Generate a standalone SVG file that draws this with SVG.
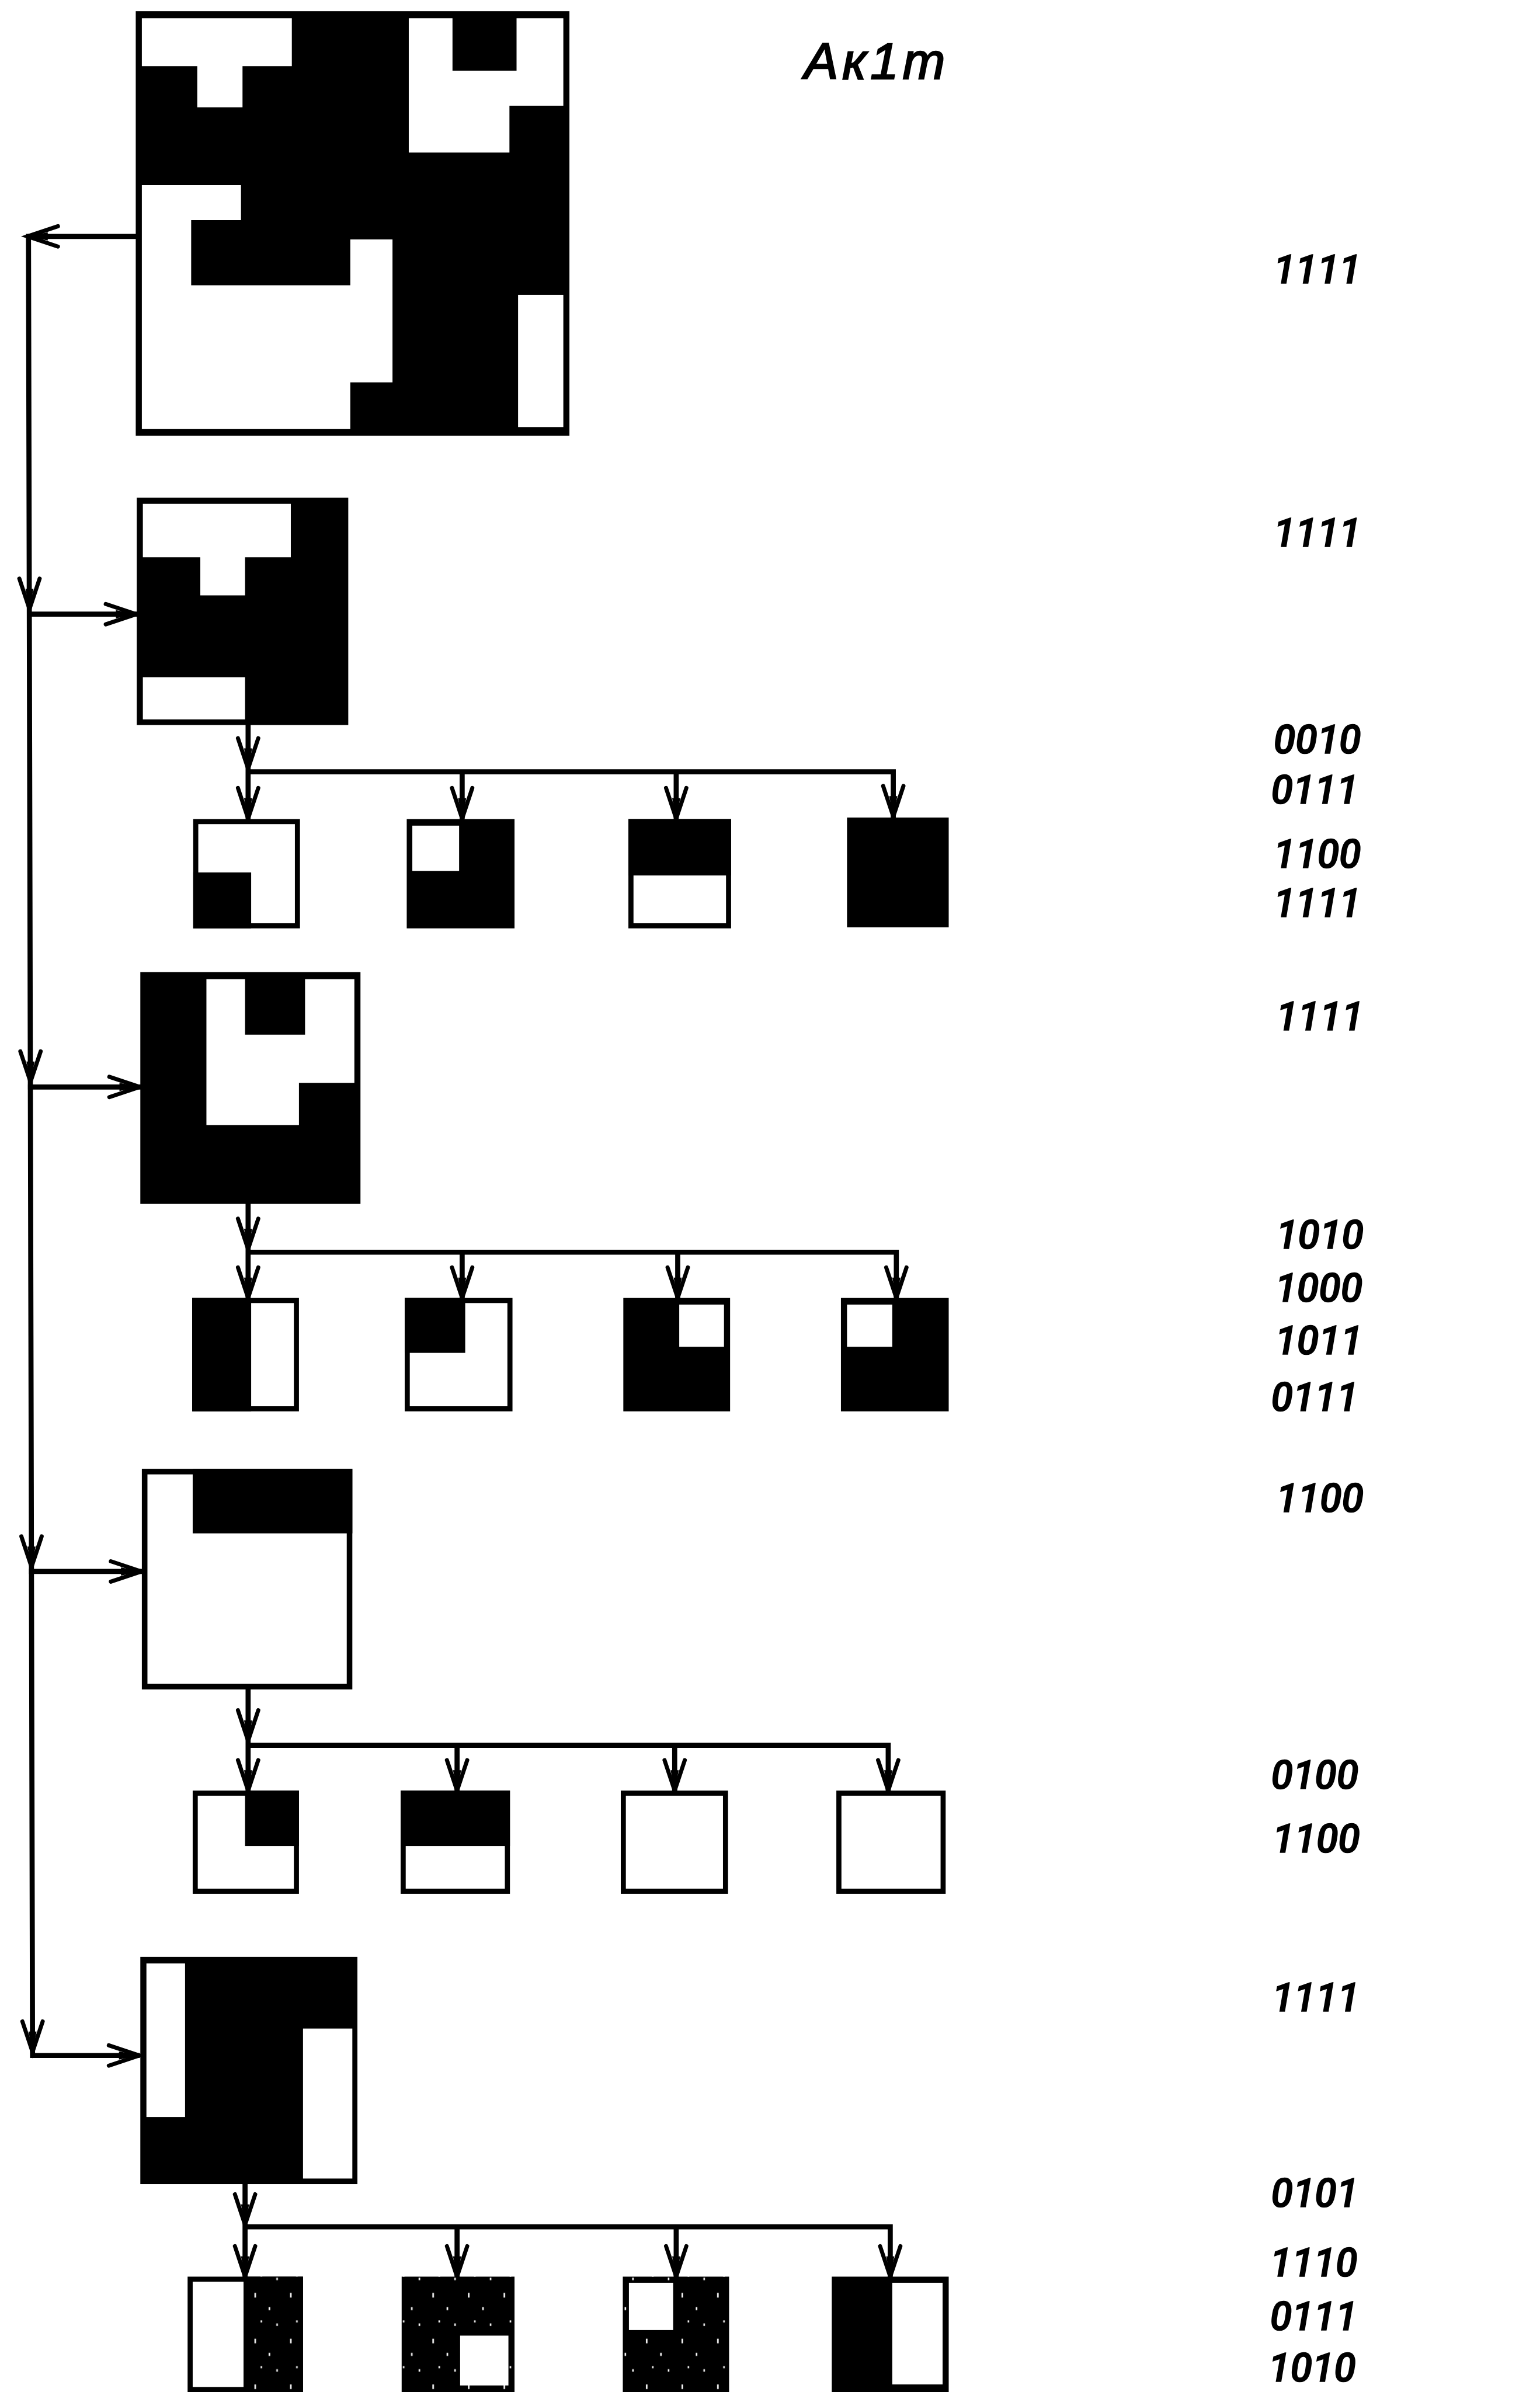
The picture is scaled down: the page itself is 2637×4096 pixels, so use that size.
<svg xmlns="http://www.w3.org/2000/svg" xmlns:xlink="http://www.w3.org/1999/xlink" width="2637" height="4096" viewBox="0 0 2637 4096">
<style>
.ln{stroke:#000;stroke-width:10;fill:none;stroke-linecap:square;stroke-linejoin:miter}
.ahv{stroke:#000;stroke-width:8;fill:none;stroke-linejoin:miter;stroke-linecap:round}
.k{fill:#000}
.w{fill:#fff}
.bx{fill:#fff;stroke:#000;stroke-width:11}
.sb{fill:#fff;stroke:#000;stroke-width:10}
.lbl{font-family:Roboto,"Liberation Sans",Arial,sans-serif;font-style:italic;font-weight:500;font-size:78px;fill:#000;stroke:#000;stroke-width:2}
.ttl{font-family:"Liberation Sans",Arial,sans-serif;font-style:italic;font-size:100px;fill:#000;stroke:#000;stroke-width:3;letter-spacing:8px}
</style>
<defs>
<g id="ah">
<path class="ahv" d="M-20,-60 L0,0 L20,-60"/>
<path class="k" d="M-8,-40 L0,0 L8,-40Z"/>
</g>
<pattern id="spk" width="70" height="90" patternUnits="userSpaceOnUse">
<rect width="70" height="90" fill="#000"/>
<path d="M12,10v9M40,38v6M55,70v5M24,64v4" stroke="#fff" stroke-width="3"/>
</pattern>
</defs>
<rect width="2637" height="4096" fill="#fff"/>
<g transform="scale(0.870584)">

<g id="connectors">
<path class="ln" d="M267,465 H58 M56,465 L64,4043 H270"/>
<path class="ln" d="M58,1208 H265 M60,2138 H272 M62,3091 H275"/>
<use xlink:href="#ah" href="#ah" transform="translate(54,465) rotate(90)"/>
<use xlink:href="#ah" href="#ah" transform="translate(58,1198)"/>
<use xlink:href="#ah" href="#ah" transform="translate(60,2128)"/>
<use xlink:href="#ah" href="#ah" transform="translate(62,3082)"/>
<use xlink:href="#ah" href="#ah" transform="translate(64,4036)"/>
<use xlink:href="#ah" href="#ah" transform="translate(268,1208) rotate(-90)"/>
<use xlink:href="#ah" href="#ah" transform="translate(275,2138) rotate(-90)"/>
<use xlink:href="#ah" href="#ah" transform="translate(278,3091) rotate(-90)"/>
<use xlink:href="#ah" href="#ah" transform="translate(274,4043) rotate(-90)"/>

<path class="ln" d="M488,1426 V1518 M488,1518 H1757 V1606 M488,1518 V1606 M909,1518 V1606 M1330,1518 V1606"/>
<use xlink:href="#ah" href="#ah" transform="translate(488,1512)"/>
<use xlink:href="#ah" href="#ah" transform="translate(488,1610)"/>
<use xlink:href="#ah" href="#ah" transform="translate(909,1610)"/>
<use xlink:href="#ah" href="#ah" transform="translate(1330,1610)"/>
<use xlink:href="#ah" href="#ah" transform="translate(1757,1606)"/>

<path class="ln" d="M488,2368 V2463 M488,2463 H1763 V2550 M488,2463 V2550 M909,2463 V2550 M1333,2463 V2550"/>
<use xlink:href="#ah" href="#ah" transform="translate(488,2457)"/>
<use xlink:href="#ah" href="#ah" transform="translate(488,2553)"/>
<use xlink:href="#ah" href="#ah" transform="translate(909,2553)"/>
<use xlink:href="#ah" href="#ah" transform="translate(1333,2553)"/>
<use xlink:href="#ah" href="#ah" transform="translate(1763,2553)"/>

<path class="ln" d="M488,3323 V3433 M488,3433 H1747 V3518 M488,3433 V3518 M899,3433 V3518 M1327,3433 V3518"/>
<use xlink:href="#ah" href="#ah" transform="translate(488,3424)"/>
<use xlink:href="#ah" href="#ah" transform="translate(488,3522)"/>
<use xlink:href="#ah" href="#ah" transform="translate(899,3522)"/>
<use xlink:href="#ah" href="#ah" transform="translate(1327,3522)"/>
<use xlink:href="#ah" href="#ah" transform="translate(1747,3522)"/>

<path class="ln" d="M482,4296 V4380 M482,4380 H1751 V4474 M482,4380 V4474 M899,4380 V4474 M1330,4380 V4474"/>
<use xlink:href="#ah" href="#ah" transform="translate(482,4376)"/>
<use xlink:href="#ah" href="#ah" transform="translate(482,4478)"/>
<use xlink:href="#ah" href="#ah" transform="translate(899,4478)"/>
<use xlink:href="#ah" href="#ah" transform="translate(1330,4478)"/>
<use xlink:href="#ah" href="#ah" transform="translate(1751,4478)"/>
</g>

<g id="n0">
<rect class="k" x="267" y="22" width="853" height="835"/>
<polygon class="w" points="279,36 574,36 574,130 477,130 477,211 388,211 388,130 279,130"/>
<polygon class="w" points="804,36 890,36 890,139 1016,139 1016,36 1108,36 1108,208 1002,208 1002,300 804,300"/>
<polygon class="w" points="279,364 474,364 474,433 376,433 376,561 689,561 689,471 772,471 772,752 689,752 689,844 279,844"/>
<rect class="w" x="1019" y="580" width="89" height="260"/>
</g>

<g id="n1">
<rect class="k" x="269" y="979" width="416" height="447"/>
<polygon class="w" points="281,991 572,991 572,1096 482,1096 482,1171 394,1171 394,1096 281,1096"/>
<rect class="w" x="281" y="1332" width="201" height="83"/>
</g>
<g id="n1c1"><rect class="sb" x="385" y="1616" width="200" height="205"/><rect class="k" x="380" y="1716" width="114" height="110"/></g>
<g id="n1c2"><rect class="k" x="800" y="1611" width="212" height="215"/><rect class="w" x="811" y="1624" width="92" height="89"/></g>
<g id="n1c3"><rect class="sb" x="1241" y="1616" width="192" height="205"/><rect class="k" x="1236" y="1611" width="202" height="111"/></g>
<g id="n1c4"><rect class="k" x="1666" y="1608" width="200" height="216"/></g>

<g id="n2">
<rect class="k" x="276" y="1912" width="433" height="456"/>
<polygon class="w" points="406,1926 482,1926 482,2035 600,2035 600,1926 697,1926 697,2130 588,2130 588,2213 406,2213"/>
</g>
<g id="n2c1"><rect class="sb" x="383" y="2558" width="200" height="213"/><rect class="k" x="378" y="2553" width="116" height="223"/></g>
<g id="n2c2"><rect class="sb" x="801" y="2558" width="202" height="213"/><rect class="k" x="796" y="2553" width="119" height="108"/></g>
<g id="n2c3"><rect class="k" x="1226" y="2553" width="210" height="223"/><rect class="w" x="1336" y="2566" width="88" height="83"/></g>
<g id="n2c4"><rect class="k" x="1654" y="2553" width="212" height="223"/><rect class="w" x="1666" y="2566" width="89" height="83"/></g>

<g id="n3">
<rect class="bx" x="284.5" y="2894.5" width="403" height="423"/>
<rect class="k" x="379" y="2889" width="314" height="127"/>
</g>
<g id="n3c1"><rect class="sb" x="384" y="3527" width="199" height="193"/><rect class="k" x="482" y="3522" width="106" height="109"/></g>
<g id="n3c2"><rect class="sb" x="793" y="3527" width="205" height="193"/><rect class="k" x="788" y="3522" width="215" height="109"/></g>
<g id="n3c3"><rect class="sb" x="1226" y="3527" width="201" height="193"/></g>
<g id="n3c4"><rect class="sb" x="1650" y="3527" width="205" height="193"/></g>

<g id="n4">
<rect class="k" x="276" y="3849" width="427" height="447"/>
<rect class="w" x="288" y="3862" width="76" height="302"/>
<rect class="w" x="596" y="3990" width="97" height="295"/>
</g>
<g id="n4c1"><rect class="sb" x="374" y="4483" width="217" height="217"/><rect fill="url(#spk)" x="479" y="4478" width="117" height="227"/></g>
<g id="n4c2"><rect fill="url(#spk)" x="790" y="4478" width="222" height="227"/><rect class="w" x="905" y="4594" width="95" height="98"/></g>
<g id="n4c3"><rect fill="url(#spk)" x="1225" y="4478" width="209" height="227"/><rect class="w" x="1237" y="4490" width="87" height="93"/></g>
<g id="n4c4"><rect class="k" x="1636" y="4478" width="230" height="227"/><rect class="w" x="1755" y="4490" width="99" height="200"/></g>

<g id="labels">
<text class="ttl" x="1582" y="155">Ак1т</text>
<text class="lbl" x="2505" y="557">1111</text>
<text class="lbl" x="2505" y="1075">1111</text>
<text class="lbl" x="2505" y="1482">0010</text>
<text class="lbl" x="2500" y="1580">0111</text>
<text class="lbl" x="2505" y="1707">1100</text>
<text class="lbl" x="2505" y="1803">1111</text>
<text class="lbl" x="2510" y="2026">1111</text>
<text class="lbl" x="2510" y="2456">1010</text>
<text class="lbl" x="2508" y="2560">1000</text>
<text class="lbl" x="2508" y="2664">1011</text>
<text class="lbl" x="2500" y="2775">0111</text>
<text class="lbl" x="2510" y="2974">1100</text>
<text class="lbl" x="2500" y="3518">0100</text>
<text class="lbl" x="2503" y="3643">1100</text>
<text class="lbl" x="2502" y="3956">1111</text>
<text class="lbl" x="2500" y="4341">0101</text>
<text class="lbl" x="2498" y="4477">1110</text>
<text class="lbl" x="2498" y="4583">0111</text>
<text class="lbl" x="2495" y="4684">1010</text>
</g>
</g>
</svg>
